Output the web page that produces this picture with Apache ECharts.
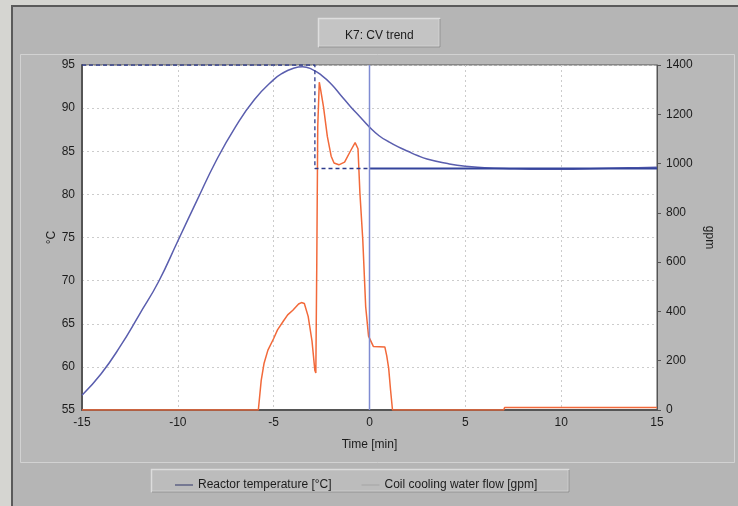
<!DOCTYPE html>
<html><head><meta charset="utf-8">
<script src="https://cdn.jsdelivr.net/npm/echarts@6/dist/echarts.min.js"></script>
<style>html,body{margin:0;padding:0;background:#d5d5d1}#c{width:738px;height:506px}</style>
</head><body><div id="c"></div>
<script>
// ---- data ----
const chartTitle = 'K7: CV trend';
const seriesNames = ['Reactor temperature [°C]', 'Coil cooling water flow [gpm]'];
const xTicks = [-15, -10, -5, 0, 5, 10, 15];
const tempTicks = [55, 95, 5];
const flowTicks = [0, 1400, 200];

const tempTime = [-15,-14,-13,-12,-11,-10,-9,-8,-7,-6,-5,-4.5,-4,-3.5,-3,-2.5,-2,-1.5,-1,-0.5,0,0.5,1,1.5,2,2.5,3,4,5,6,7,8,9,10,11,12,13,14,15];
const tempVal  = [56.7,59.2,62.4,66.1,69.9,74.6,79.3,83.9,87.8,91.0,93.3,94.1,94.6,94.8,94.5,93.8,92.8,91.5,90.2,89.0,87.8,86.8,86.1,85.5,85.0,84.5,84.1,83.6,83.25,83.1,83.0,82.95,82.9,82.9,82.95,83.0,83.05,83.1,83.15];

const flowTime = [-15,-5.8,-5.65,-5.5,-5.3,-5.0,-4.8,-4.5,-4.27,-4.0,-3.7,-3.55,-3.4,-3.2,-3.0,-2.85,-2.8,-2.75,-2.7,-2.62,-2.55,-2.4,-2.2,-2.0,-1.85,-1.6,-1.3,-1.0,-0.75,-0.6,-0.5,-0.35,-0.2,-0.05,0.2,0.8,0.9,1.0,1.1,1.2,7.0,7.05,15];
const flowVal  = [0,0,120,190,243,290,325,360,386,405,430,436,432,380,280,160,150,600,1150,1330,1300,1230,1110,1030,1002,995,1006,1050,1085,1060,880,690,420,300,258,256,220,170,80,0,0,10,10];

const spPastTime = [-15, -2.85, -2.85, 0];
const spPastVal  = [95, 95, 83, 83];
const spFutureTime = [0, 15];
const spFutureVal  = [83, 83];
const nowTime = [0, 0];
const nowVal  = [55, 95];

const zip = (a, b) => a.map((v, i) => [v, b[i]]);

const chart = echarts.init(document.getElementById('c'), null, {renderer: 'canvas'});
const txt = '#1c1c1c';
const font = 'Liberation Sans';
const plain = v => String(v);

chart.setOption({
  backgroundColor: '#d5d5d1',
  animation: false,
  textStyle: {fontFamily: font},
  title: {
    text: chartTitle, left: 340, top: 25,
    textStyle: {fontSize: 12, fontWeight: 'normal', color: txt, fontFamily: font}
  },
  graphic: [
    {type: 'rect', z: -20, shape: {x: 12, y: 6, width: 740, height: 520}, style: {fill: '#b5b5b5', stroke: '#5a5a5a', lineWidth: 2}},
    {type: 'rect', z: -19, shape: {x: 20.5, y: 54.5, width: 714, height: 408}, style: {fill: '#b8b8b8', stroke: '#d2d2d2', lineWidth: 1}},
    {type: 'rect', z: -18, shape: {x: 318.5, y: 18.5, width: 121, height: 28}, style: {fill: '#c4c4c4', stroke: '#dedede', lineWidth: 1.5}},
    {type: 'polyline', z: -17, shape: {points: [[319, 47], [440, 47], [440, 19]]}, style: {stroke: '#8a8a8a', lineWidth: 1}},
    {type: 'rect', z: -18, shape: {x: 151.5, y: 469.5, width: 417, height: 22}, style: {fill: '#bcbcbc', stroke: '#dcdcdc', lineWidth: 1.5}},
    {type: 'polyline', z: -17, shape: {points: [[152, 492], [569, 492], [569, 470]]}, style: {stroke: '#8a8a8a', lineWidth: 1}}
  ],
  legend: {
    left: 170, top: 474,
    itemWidth: 18, itemHeight: 1, itemGap: 30,
    icon: 'rect',
    textStyle: {fontSize: 12, color: txt, fontFamily: font},
    data: [
      {name: seriesNames[0], itemStyle: {color: '#2e3468'}},
      {name: seriesNames[1], itemStyle: {color: '#a4a4a4'}}
    ]
  },
  grid: {left: 82, right: 81, top: 65, bottom: 96, show: true, backgroundColor: '#ffffff', borderColor: '#555', borderWidth: 1},
  xAxis: {
    type: 'value', min: xTicks[0], max: xTicks[xTicks.length - 1], interval: xTicks[1] - xTicks[0],
    name: 'Time [min]', nameLocation: 'middle', nameGap: 29, nameMoveOverlap: false,
    nameTextStyle: {fontSize: 12, color: txt},
    axisLine: {show: true, onZero: false, lineStyle: {color: '#555', width: 2}},
    axisTick: {show: false},
    axisLabel: {fontSize: 12, color: txt, margin: 7, formatter: plain},
    splitLine: {show: true, lineStyle: {color: '#cccccc', type: [2, 3], width: 1}}
  },
  yAxis: [
    {
      type: 'value', min: tempTicks[0], max: tempTicks[1], interval: tempTicks[2],
      name: '°C', nameLocation: 'middle', nameGap: 24, nameRotate: 90, nameMoveOverlap: false,
      nameTextStyle: {fontSize: 12, color: txt},
      axisLine: {show: true, onZero: false, lineStyle: {color: '#555', width: 2}},
      axisTick: {show: false},
      axisLabel: {fontSize: 12, color: txt, margin: 7, formatter: plain},
      splitLine: {show: true, lineStyle: {color: '#cccccc', type: [2, 3], width: 1}}
    },
    {
      type: 'value', min: flowTicks[0], max: flowTicks[1], interval: flowTicks[2],
      name: 'gpm', nameLocation: 'middle', nameGap: 46, nameRotate: -90, nameMoveOverlap: false,
      nameTextStyle: {fontSize: 12, color: txt},
      axisLine: {show: true, onZero: false, lineStyle: {color: '#555', width: 1}},
      axisTick: {show: true, length: 4, lineStyle: {color: '#555'}},
      axisLabel: {fontSize: 12, color: txt, margin: 9, formatter: plain},
      splitLine: {show: false}
    }
  ],
  series: [
    {
      name: seriesNames[1], type: 'line', yAxisIndex: 1, data: zip(flowTime, flowVal),
      showSymbol: false, lineStyle: {color: '#f2693a', width: 1.5}, itemStyle: {color: '#f2693a'}, z: 3
    },
    {
      name: seriesNames[0], type: 'line', yAxisIndex: 0, data: zip(tempTime, tempVal),
      showSymbol: false, smooth: 0.5, lineStyle: {color: '#5a5eae', width: 1.5}, itemStyle: {color: '#5a5eae'}, z: 4
    },
    {
      name: 'sp-past', type: 'line', yAxisIndex: 0, data: zip(spPastTime, spPastVal),
      showSymbol: false, lineStyle: {color: '#2c3a8c', width: 1.3, type: [4, 3]}, z: 5
    },
    {
      name: 'sp-future', type: 'line', yAxisIndex: 0, data: zip(spFutureTime, spFutureVal),
      showSymbol: false, lineStyle: {color: '#34449c', width: 2}, z: 5
    },
    {
      name: 'now', type: 'line', yAxisIndex: 0, data: zip(nowTime, nowVal),
      showSymbol: false, lineStyle: {color: '#7f8cd2', width: 1.5}, z: 6
    }
  ]
});
</script>
</body></html>
